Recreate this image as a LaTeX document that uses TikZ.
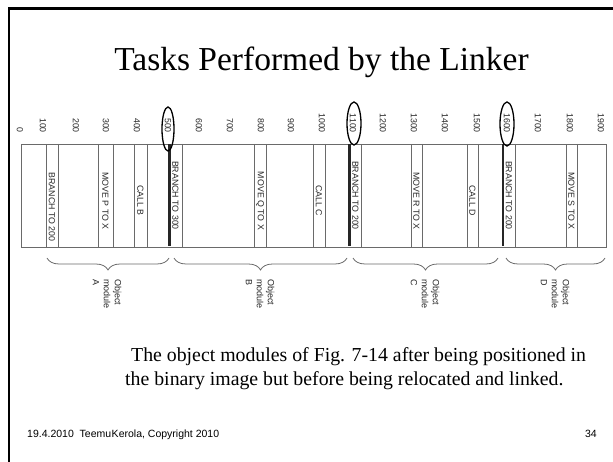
\documentclass[tikz,border=0pt]{standalone}
\usepackage{fontspec}
\setmainfont{Liberation Serif}
\setsansfont{Liberation Sans}
\usetikzlibrary{decorations.pathreplacing}

\definecolor{rulegray}{HTML}{6A6A6A}
\definecolor{inkgray}{HTML}{262626}

\tikzset{
  ticklabel/.style={rotate=-90, anchor=east, inner sep=0pt, text=inkgray,
    font=\sffamily\fontsize{8.8}{10}\selectfont},
  slotlabel/.style={rotate=-90, inner sep=0pt, text=inkgray,
    font=\sffamily\fontsize{8.8}{10}\selectfont},
  modlabel/.style={rotate=-90, anchor=north west, align=left, inner sep=0pt,
    text=inkgray, font=\sffamily\fontsize{9}{11}\selectfont},
  divider/.style={draw=rulegray, line width=0.9pt},
  joint/.style={draw=inkgray, line width=2.4pt},
  marker/.style={draw=black, line width=1.3pt},
  modbrace/.style={draw=rulegray, line width=0.8pt,
    decorate, decoration={brace, mirror, amplitude=12pt}},
}

\begin{document}
\begin{tikzpicture}[x=1pt, y=-1pt]
\useasboundingbox (0,0) rectangle (613,462);

% slide frame
\draw[line width=2.4pt] (8.7,462) -- (8.7,8.7) -- (613,8.7);

% title
\node[anchor=base, inner sep=0pt, font=\fontsize{33.5}{40}\selectfont]
  (title) at (321.5,71) {Tasks Performed by the Linker};

% address scale
\foreach \v/\x in {0/20,100/43,200/76,300/106,400/137,500/168,600/199,
                   700/230,800/261,900/291,1000/322,1100/353,1200/383,
                   1300/414,1400/445,1500/477,1600/507,1700/538,1800/570,
                   1900/601}
  \node[ticklabel] (t\v) at (\x,133) {\v};

% binary image
\draw[divider] (21,144) rectangle (606,247);
\foreach \x in {46,58,98,113,134,147,182,254,266,313,325,
                361.5,411,422,467,478,515,566,577}
  \draw[divider] (\x,144) -- (\x,247);

% module boundaries
\foreach \x in {169.5,349.5,503}
  \draw[joint] (\x,144.5) -- (\x,246.5);

% instructions
\node[slotlabel] (a1) at (52,207)    {BRANCH TO 200};
\node[slotlabel] (a2) at (105.5,201) {MOVE P TO X};
\node[slotlabel] (a3) at (140.5,200.5) {CALL B};
\node[slotlabel] (b1) at (175.5,195.5) {BRANCH TO 300};
\node[slotlabel] (b2) at (260,201)   {MOVE Q TO X};
\node[slotlabel] (b3) at (319,200.5) {CALL C};
\node[slotlabel] (c1) at (355.5,195.5) {BRANCH TO 200};
\node[slotlabel] (c2) at (416.5,201) {MOVE R TO X};
\node[slotlabel] (c3) at (472.5,200.5) {CALL D};
\node[slotlabel] (d1) at (509,195.5) {BRANCH TO 200};
\node[slotlabel] (d2) at (571.5,201) {MOVE S TO X};

% highlighted module start addresses
\draw[marker] (168,129) ellipse [x radius=6, y radius=22];
\draw[marker] (354,123.5) ellipse [x radius=7, y radius=21.5];
\draw[marker] (507,124) ellipse [x radius=7, y radius=22];

% module braces
\coordinate (ba0) at (47,258);  \coordinate (ba1) at (169,258);
\coordinate (bb0) at (174,258); \coordinate (bb1) at (347,258);
\coordinate (bc0) at (353,258); \coordinate (bc1) at (498,258);
\coordinate (bd0) at (506,258); \coordinate (bd1) at (605,258);
\draw[modbrace] (ba0) -- (ba1);
\draw[modbrace] (bb0) -- (bb1);
\draw[modbrace] (bc0) -- (bc1);
\draw[modbrace] (bd0) -- (bd1);

\node[modlabel] (ma) at (121.5,279) {Object\\module\\A};
\node[modlabel] (mb) at (274.5,279) {Object\\module\\B};
\node[modlabel] (mc) at (439.5,279) {Object\\module\\C};
\node[modlabel] (md) at (569.5,279) {Object\\module\\D};

% caption
\node[anchor=base west, inner sep=0pt, font=\fontsize{19.8}{23}\selectfont]
  (cap1) at (131,361) {The object modules of Fig. 7-14 after being positioned in};
\node[anchor=base west, inner sep=0pt, font=\fontsize{19.8}{23}\selectfont]
  (cap2) at (125,385) {the binary image but before being relocated and linked.};

% footer
\node[anchor=base west, inner sep=0pt, font=\sffamily\fontsize{10.5}{12}\selectfont]
  (foot) at (27,437) {19.4.2010\ \ Teemu\kern0.5pt Kerola, Copyright 2010};
\node[anchor=base east, inner sep=0pt, font=\sffamily\fontsize{10.5}{12}\selectfont]
  (page) at (597,437) {34};
\end{tikzpicture}
\end{document}
